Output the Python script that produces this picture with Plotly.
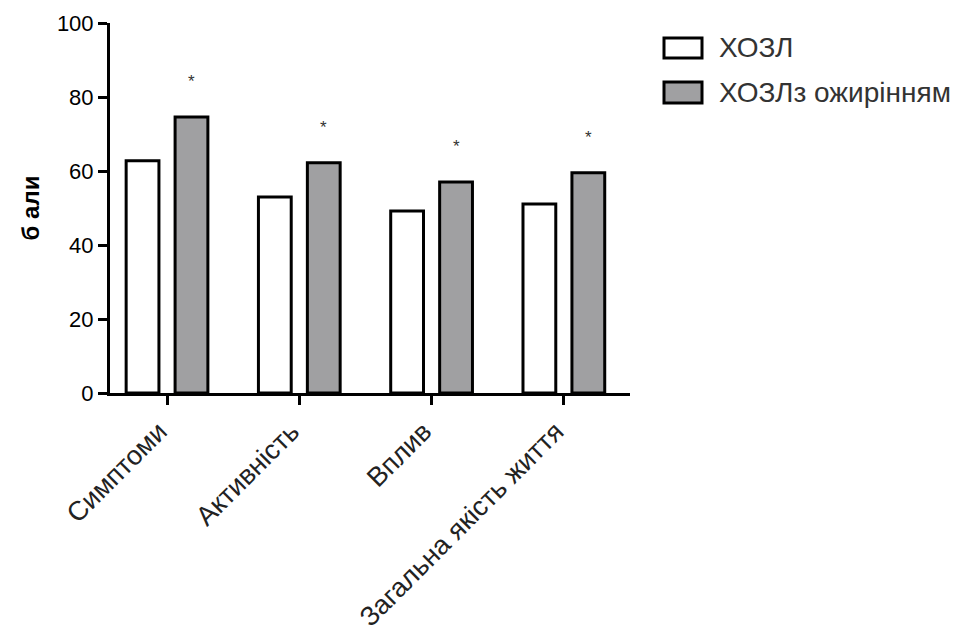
import plotly.graph_objects as go

categories = ["Симптоми", "Активність", "Вплив", "Загальна якість життя"]
copd = [62.8, 53.0, 49.2, 51.1]
copd_obese = [74.6, 62.2, 57.0, 59.5]
star_offset = 9.5
series_names = ["ХОЗЛ", "ХОЗЛз ожирінням"]
series_colors = ["white", "#a0a0a2"]
y_ticks = [0, 20, 40, 60, 80, 100]

L, T, PW, PH = 102, 15, 520, 370
W, H = 973, 640
BODY = 8


def px_x(p):
    return (p - BODY - L) / PW


def px_y(p):
    return 1 - (p - BODY - T) / PH


fig = go.Figure()
for name, vals, col in zip(series_names, [copd, copd_obese], series_colors):
    fig.add_trace(go.Bar(x=categories, y=vals, name=name,
                         marker=dict(color=col, line=dict(color="black", width=3)),
                         showlegend=False))

bargap = 0.26
half_slot = (1 - bargap) / 4
for i, v in enumerate(copd_obese):
    fig.add_annotation(x=i + half_slot, y=v + star_offset, xref="x", yref="y",
                       text="*", showarrow=False,
                       font=dict(family="Liberation Sans, Arial", size=17, color="#333"))

# custom legend
legend_rows = [(38, 58), (82, 103)]
for (y0, y1), name, col in zip(legend_rows, series_names, series_colors):
    fig.add_shape(type="rect", xref="paper", yref="paper",
                  x0=px_x(664), x1=px_x(702), y0=px_y(y1), y1=px_y(y0),
                  fillcolor=col, line=dict(color="black", width=3))
    fig.add_annotation(xref="paper", yref="paper", x=px_x(717), y=px_y((y0 + y1) / 2),
                       xanchor="left", yanchor="middle", text=name, showarrow=False,
                       font=dict(family="Liberation Sans, Arial", size=28, color="#333"))

fig.update_layout(
    width=W, height=H,
    margin=dict(l=L, r=W - L - PW, t=T, b=H - T - PH, autoexpand=False),
    paper_bgcolor="white", plot_bgcolor="white",
    barmode="group", bargap=bargap, bargroupgap=0.33,
    font=dict(family="Liberation Sans, Arial", color="black"),
    showlegend=False,
)
fig.update_xaxes(
    range=[-0.431, 3.5], showline=True, linecolor="black", linewidth=3,
    ticks="outside", ticklen=9, tickwidth=3, tickcolor="black",
    tickangle=-45, tickfont=dict(size=27, color="#222"), ticklabelshift=-8,
    showgrid=False, zeroline=False, automargin=False,
)
fig.update_yaxes(
    range=[0, 100], tickvals=y_ticks, showline=True, linecolor="black", linewidth=3,
    ticks="outside", ticklen=9, tickwidth=3, tickcolor="black",
    tickfont=dict(size=22, color="black",
                  family="Liberation Sans Narrow, Liberation Sans, Arial"),
    tickprefix="<b>", ticksuffix="</b>",
    title=dict(text="<b>б али</b>", font=dict(size=24), standoff=11),
    showgrid=False, zeroline=False, automargin=False,
)
fig.write_html("out.html")
